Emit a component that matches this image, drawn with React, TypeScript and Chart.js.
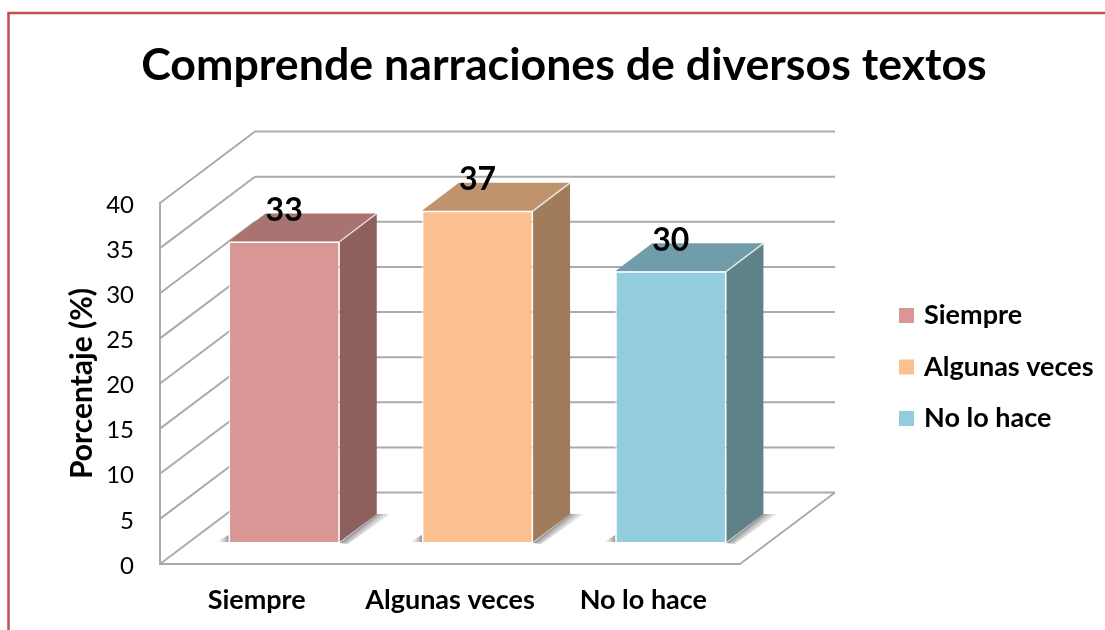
import React, { useEffect, useRef } from "react";
import { Chart, registerables } from "chart.js";

Chart.register(...registerables);

const categories = ["Siempre", "Algunas veces", "No lo hace"];
const seriesNames = ["Siempre", "Algunas veces", "No lo hace"];
const siempreValues = [33.3, null, null];
const algunasValues = [null, 36.7, null];
const noLoHaceValues = [null, null, 30];
const frontColors = ["#D99694", "#FAC090", "#93CDDD"];
const topColors = ["#A87371", "#BF936E", "#719CA9"];
const sideColors = ["#8D5F5D", "#A07C5B", "#5F8289"];

const WALL_DX = 95;
const WALL_DY = 71.5;
const BAR_DX = 27.5;
const BAR_DY = 22;
const DEPTH_DX = 37;
const DEPTH_DY = 28;
const GRID = "#ABABAB";
const FONT = "Lato";

function barsOf(chart: any) {
  const out: any[] = [];
  chart.data.datasets.forEach((ds: any, i: number) => {
    chart.getDatasetMeta(i).data.forEach((el: any, j: number) => {
      if (ds.data[j] !== null) out.push({ el, i, value: ds.data[j] });
    });
  });
  return out;
}

function poly(ctx: CanvasRenderingContext2D, pts: number[][], fill: string | CanvasGradient) {
  ctx.beginPath();
  pts.forEach((p, k) => (k ? ctx.lineTo(p[0], p[1]) : ctx.moveTo(p[0], p[1])));
  ctx.closePath();
  ctx.fillStyle = fill;
  ctx.fill();
}

const scene3d = {
  id: "scene3d",
  beforeDraw(chart: any) {
    const ctx = chart.ctx;
    ctx.save();
    ctx.strokeStyle = "#C0504D";
    ctx.lineWidth = 2.5;
    ctx.strokeRect(8.5, 13, 1400, 900);
    ctx.restore();
  },
  afterLayout(chart: any) {
    chart.legend.left = 878;
    chart.legend.top = 277.5;
  },
  beforeDatasetsDraw(chart: any) {
    const ctx = chart.ctx;
    const { left, right } = chart.chartArea;
    const y = chart.scales.y;
    ctx.save();
    ctx.strokeStyle = GRID;
    ctx.lineWidth = 2;
    y.ticks.forEach((t: any) => {
      const py = y.getPixelForValue(t.value);
      ctx.beginPath();
      ctx.moveTo(left, py);
      ctx.lineTo(left + WALL_DX, py - WALL_DY);
      ctx.lineTo(right + WALL_DX, py - WALL_DY);
      ctx.stroke();
    });
    const floorY = y.getPixelForValue(0);
    ctx.beginPath();
    ctx.moveTo(right, floorY);
    ctx.lineTo(right + WALL_DX, floorY - WALL_DY);
    ctx.stroke();
    ctx.restore();

    ctx.save();
    ctx.translate(BAR_DX, -BAR_DY);
    barsOf(chart).forEach(({ el, i }) => {
      const p = el.getProps(["x", "y", "base", "width"], true);
      const l = p.x - p.width / 2;
      const r = p.x + p.width / 2;
      const b = p.base;
      const sg = ctx.createLinearGradient(r, b, r + 8, b + 10);
      sg.addColorStop(0, "rgba(90,90,90,0.8)");
      sg.addColorStop(1, "rgba(210,210,210,0)");
      poly(ctx, [[r, b + 1], [r + DEPTH_DX, b - DEPTH_DY], [r + DEPTH_DX + 14, b - DEPTH_DY], [r + 8, b + 2]], sg);
      const lg = ctx.createLinearGradient(l - 12, 0, l, 0);
      lg.addColorStop(0, "rgba(200,200,200,0)");
      lg.addColorStop(1, "rgba(110,110,110,0.75)");
      poly(ctx, [[l - 12, b], [l, b], [l, b - 7]], lg);
      poly(ctx, [[r, p.y], [r + DEPTH_DX, p.y - DEPTH_DY], [r + DEPTH_DX, b - DEPTH_DY], [r, b]], sideColors[i]);
      poly(ctx, [[l, p.y], [l + DEPTH_DX, p.y - DEPTH_DY], [r + DEPTH_DX, p.y - DEPTH_DY], [r, p.y]], topColors[i]);
      ctx.strokeStyle = "rgba(255,255,255,0.75)";
      ctx.lineWidth = 1.5;
      ctx.beginPath();
      ctx.moveTo(r, p.y);
      ctx.lineTo(r + DEPTH_DX, p.y - DEPTH_DY);
      ctx.stroke();
    });
  },
  afterDatasetsDraw(chart: any) {
    const ctx = chart.ctx;
    ctx.restore();
    ctx.save();
    ctx.fillStyle = "#000";
    ctx.font = `bold 32px ${FONT}`;
    ctx.textAlign = "center";
    ctx.textBaseline = "middle";
    barsOf(chart).forEach(({ el, value }) => {
      ctx.fillText(Math.round(value).toString(), el.x + BAR_DX, el.y - BAR_DY - 31);
    });
    ctx.restore();
  },
};

export default function App() {
  const ref = useRef<HTMLCanvasElement>(null);
  useEffect(() => {
    const makeSet = (label: string, data: (number | null)[], i: number) => ({
      label,
      data,
      backgroundColor: frontColors[i],
      borderColor: "rgba(255,255,255,0.7)",
      borderWidth: 1.5,
      categoryPercentage: 1,
      barPercentage: 0.575,
      clip: false as const,
    });
    const chart = new Chart(ref.current!, {
      type: "bar",
      data: {
        labels: categories,
        datasets: [
          makeSet(seriesNames[0], siempreValues, 0),
          makeSet(seriesNames[1], algunasValues, 1),
          makeSet(seriesNames[2], noLoHaceValues, 2),
        ],
      },
      plugins: [scene3d],
      options: {
        responsive: false,
        animation: false,
        layout: { padding: { left: 23, top: 0, right: 0, bottom: 0 } },
        plugins: {
          tooltip: { enabled: false },
          title: {
            display: true,
            text: "Comprende narraciones de diversos textos",
            color: "#000",
            font: { family: FONT, weight: "bold", size: 44.7, lineHeight: 1.2 },
            padding: { top: 39, bottom: 110.4 },
          },
          legend: {
            display: true,
            position: "right",
            align: "start",
            labels: {
              color: "#000",
              font: { family: FONT, weight: "bold", size: 27 },
              boxWidth: 8,
              boxHeight: 8,
              padding: 24.5,
              generateLabels: (c: any) =>
                Chart.defaults.plugins.legend.labels.generateLabels(c).map((item: any, i: number) => ({
                  ...item,
                  strokeStyle: frontColors[i],
                  lineWidth: 7,
                })),
            },
          },
        },
        scales: {
          x: {
            stacked: true,
            offset: true,
            grid: { display: false },
            border: { display: true, color: GRID, width: 2 },
            ticks: {
              color: "#000",
              padding: 12,
              maxRotation: 0,
              font: { family: FONT, weight: "bold", size: 27 },
            },
            afterFit: (s: any) => {
              s.height = 66;
            },
          },
          y: {
            stacked: true,
            min: 0,
            max: 40,
            grid: { display: false },
            border: { display: true, color: GRID, width: 2 },
            ticks: {
              stepSize: 5,
              color: "#000",
              padding: 18,
              labelOffset: 2,
              font: { family: FONT, size: 24 },
            },
            title: {
              display: true,
              text: "Porcentaje (%)",
              color: "#000",
              font: { family: FONT, weight: "bold", size: 30 },
              padding: { top: 41, bottom: 0 },
            },
            afterFit: (s: any) => {
              s.width = 137;
            },
          },
        },
      },
    } as any);
    const legend = (chart as any).legend;
    const baseFit = legend.fit;
    legend.fit = function () {
      baseFit.call(this);
      this.width = 365;
    };
    chart.update();
    return () => chart.destroy();
  }, []);
  return (
    <canvas
      ref={ref}
      width={1105}
      height={630}
      style={{ position: "absolute", left: 0, top: 0, display: "block" }}
    />
  );
}
